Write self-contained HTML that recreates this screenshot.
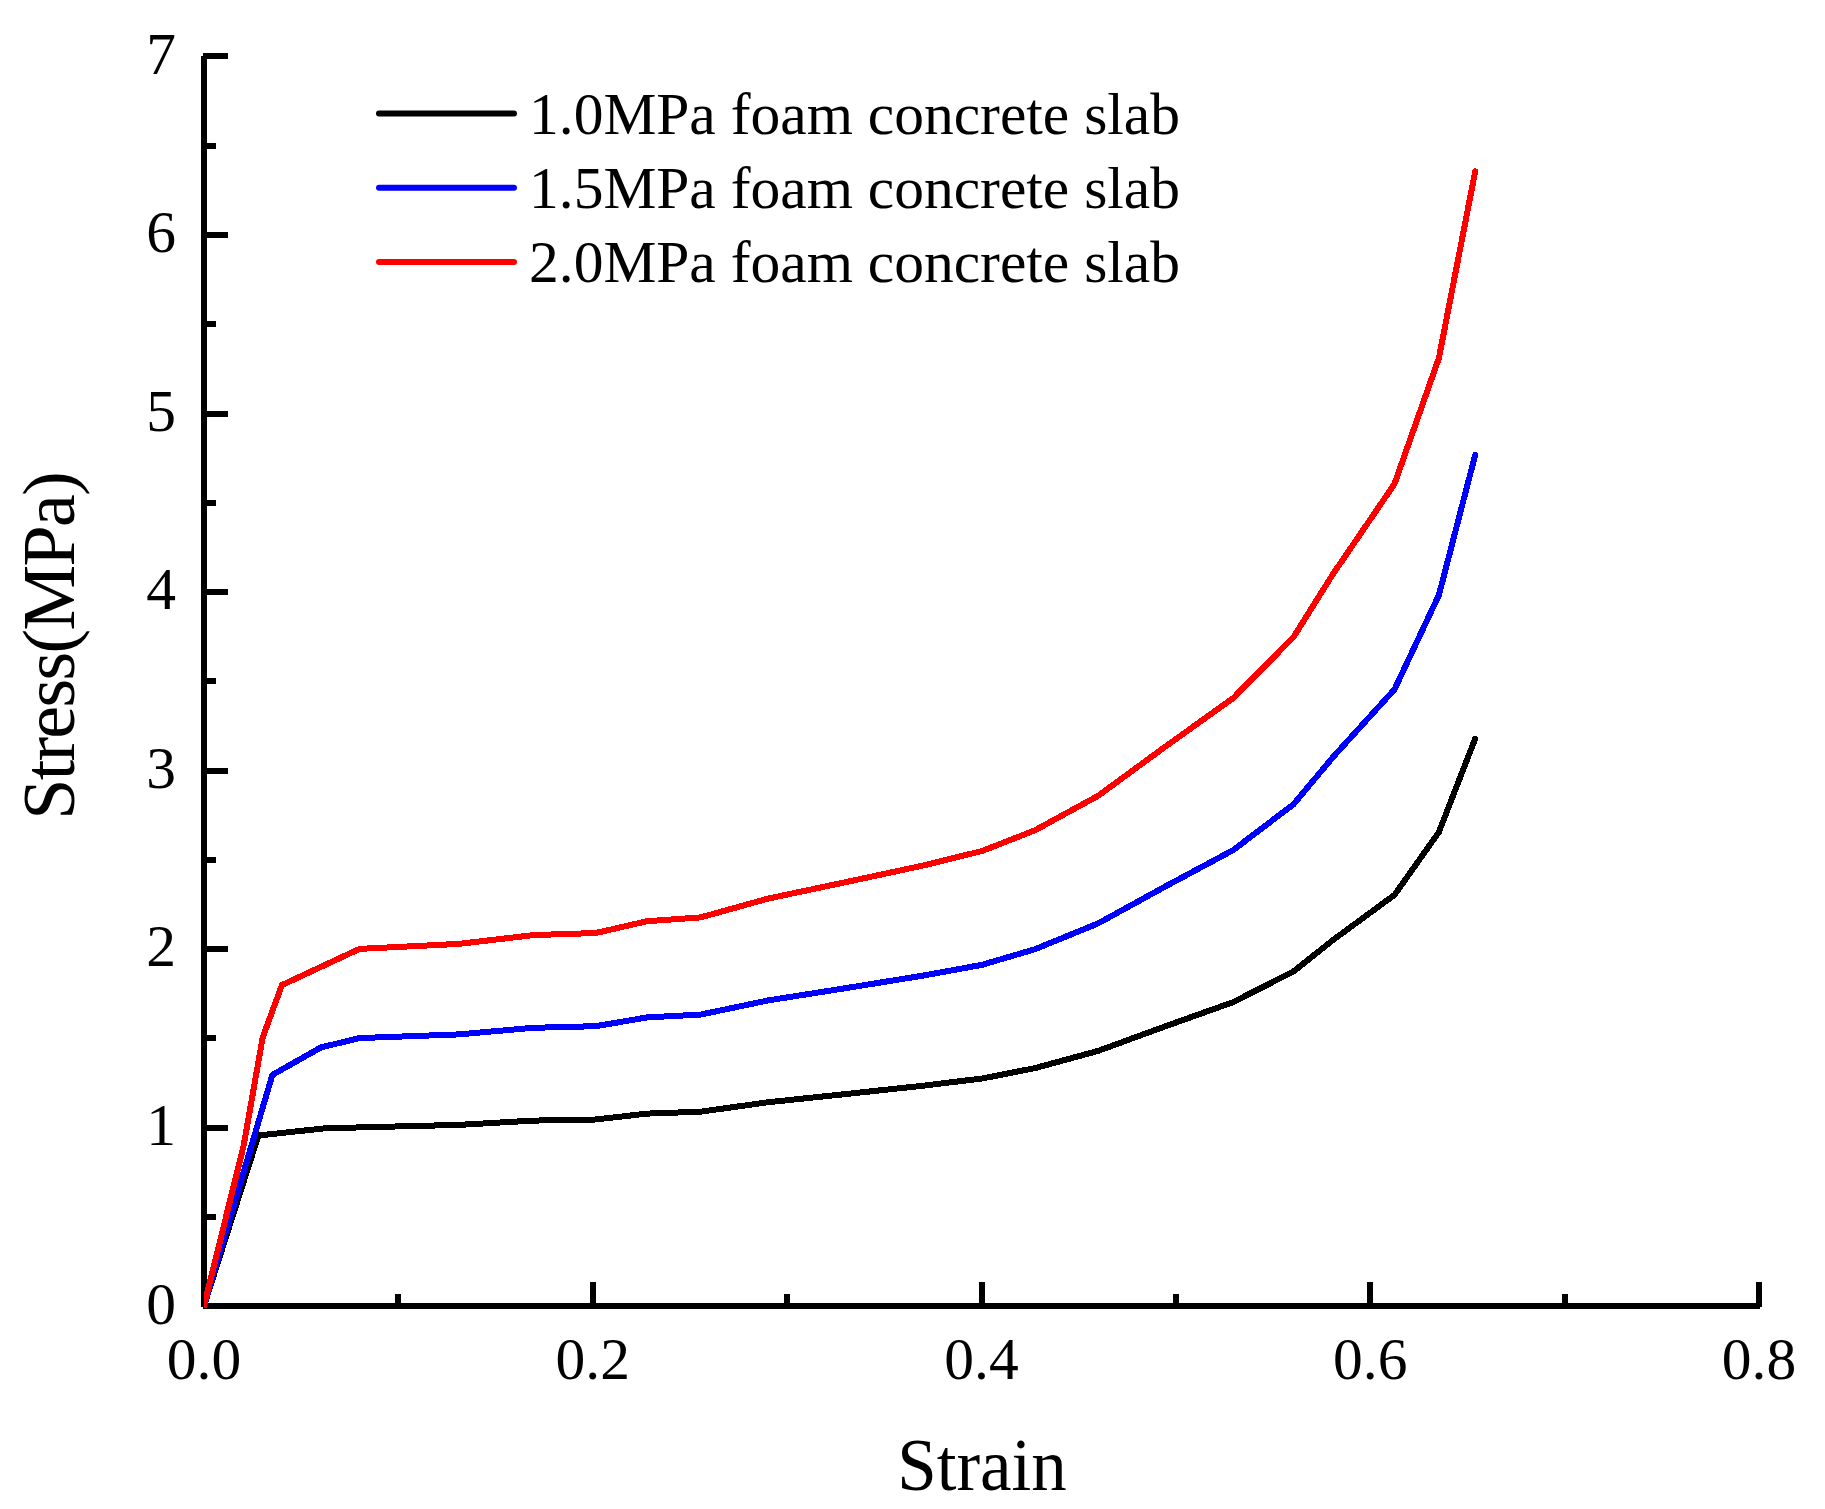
<!DOCTYPE html>
<html lang="en"><head><meta charset="utf-8"><title>Stress-Strain</title>
<style>
html,body{margin:0;padding:0;background:#fff;}
body{width:1825px;height:1509px;overflow:hidden;}
svg{display:block;}
text{font-family:"Liberation Serif","Times New Roman",serif;fill:#000;}
.tk{font-size:59.5px;}
.lg{font-size:59.5px;}
.ti{font-size:74px;}
</style></head><body>
<svg width="1825" height="1509" viewBox="0 0 1825 1509">
<rect x="0" y="0" width="1825" height="1509" fill="#ffffff"/>

<g fill="#000" shape-rendering="crispEdges">
<rect x="201" y="56" width="6" height="1251"/>
<rect x="203" y="1303" width="1557" height="6"/>
<rect x="203" y="1214" width="13" height="6"/>
<rect x="203" y="1125" width="25" height="6"/>
<rect x="203" y="1035" width="13" height="6"/>
<rect x="203" y="946" width="25" height="6"/>
<rect x="203" y="857" width="13" height="6"/>
<rect x="203" y="768" width="25" height="6"/>
<rect x="203" y="678" width="13" height="6"/>
<rect x="203" y="589" width="25" height="6"/>
<rect x="203" y="500" width="13" height="6"/>
<rect x="203" y="411" width="25" height="6"/>
<rect x="203" y="321" width="13" height="6"/>
<rect x="203" y="232" width="25" height="6"/>
<rect x="203" y="143" width="13" height="6"/>
<rect x="203" y="53" width="25" height="6"/>
<rect x="395" y="1294" width="6" height="13"/>
<rect x="590" y="1282" width="6" height="25"/>
<rect x="784" y="1294" width="6" height="13"/>
<rect x="979" y="1282" width="6" height="25"/>
<rect x="1173" y="1294" width="6" height="13"/>
<rect x="1367" y="1282" width="6" height="25"/>
<rect x="1562" y="1294" width="6" height="13"/>
<rect x="1756" y="1282" width="6" height="25"/>
</g>
<clipPath id="pc"><rect x="204" y="40" width="1560" height="1268"/></clipPath>
<g clip-path="url(#pc)" fill="none" stroke-width="6" stroke-linejoin="round" stroke-linecap="round" shape-rendering="crispEdges">
<polyline stroke="#000000" points="204.0,1306.0 258.4,1135.5 323.0,1128.5 359.5,1127.4 458.6,1124.9 533.3,1120.6 595.7,1119.5 647.2,1113.6 700.6,1111.7 767.7,1102.3 845.4,1094.1 923.2,1085.7 982.1,1078.5 1035.0,1068.1 1098.1,1050.9 1166.2,1026.0 1233.2,1002.1 1293.5,971.5 1332.9,940.1 1394.5,894.9 1438.9,832.1 1475.2,738.7"/>
<polyline stroke="#0000ff" points="204.0,1306.0 272.4,1074.9 321.0,1047.4 359.5,1038.1 458.6,1034.4 533.3,1027.8 595.7,1026.2 647.2,1017.4 700.6,1014.6 767.7,1000.5 845.4,988.2 923.2,975.6 982.1,964.8 1035.0,949.2 1098.1,923.4 1166.2,886.0 1233.2,850.1 1293.5,804.3 1332.9,757.2 1394.5,689.4 1438.9,595.1 1475.2,455.0"/>
<polyline stroke="#ff0000" points="204.0,1306.0 243.7,1145.3 262.7,1037.4 281.9,985.1 359.5,948.9 458.6,943.9 533.3,935.1 595.7,933.0 647.2,921.2 700.6,917.4 767.7,898.7 845.4,882.2 923.2,865.5 982.1,851.0 1035.0,830.3 1098.1,795.8 1166.2,746.0 1233.2,698.1 1293.5,637.1 1332.9,574.2 1394.5,483.9 1438.9,358.1 1475.2,171.4"/>
</g>
<text class="tk" x="176" y="1323.5" text-anchor="end">0</text>
<text class="tk" x="176" y="1144.9" text-anchor="end">1</text>
<text class="tk" x="176" y="966.4" text-anchor="end">2</text>
<text class="tk" x="176" y="787.8" text-anchor="end">3</text>
<text class="tk" x="176" y="609.2" text-anchor="end">4</text>
<text class="tk" x="176" y="430.6" text-anchor="end">5</text>
<text class="tk" x="176" y="252.1" text-anchor="end">6</text>
<text class="tk" x="176" y="73.5" text-anchor="end">7</text>
<text class="tk" x="204.0" y="1378.5" text-anchor="middle">0.0</text>
<text class="tk" x="592.8" y="1378.5" text-anchor="middle">0.2</text>
<text class="tk" x="981.5" y="1378.5" text-anchor="middle">0.4</text>
<text class="tk" x="1370.2" y="1378.5" text-anchor="middle">0.6</text>
<text class="tk" x="1759.0" y="1378.5" text-anchor="middle">0.8</text>
<text class="ti" x="982" y="1490" text-anchor="middle" textLength="169.5" lengthAdjust="spacingAndGlyphs">Strain</text>
<text class="ti" transform="translate(74.2,645.5) rotate(-90)" text-anchor="middle" textLength="348.5" lengthAdjust="spacing">Stress(MPa)</text>
<line x1="379" y1="113.4" x2="514" y2="113.4" stroke="#000000" stroke-width="6" stroke-linecap="round"/>
<text class="lg" x="529" y="133.9" textLength="651" lengthAdjust="spacingAndGlyphs">1.0MPa foam concrete slab</text>
<line x1="379" y1="187.7" x2="514" y2="187.7" stroke="#0000ff" stroke-width="6" stroke-linecap="round"/>
<text class="lg" x="529" y="208.1" textLength="651" lengthAdjust="spacingAndGlyphs">1.5MPa foam concrete slab</text>
<line x1="379" y1="261.9" x2="514" y2="261.9" stroke="#ff0000" stroke-width="6" stroke-linecap="round"/>
<text class="lg" x="529" y="282.2" textLength="651" lengthAdjust="spacingAndGlyphs">2.0MPa foam concrete slab</text>
</svg></body></html>
